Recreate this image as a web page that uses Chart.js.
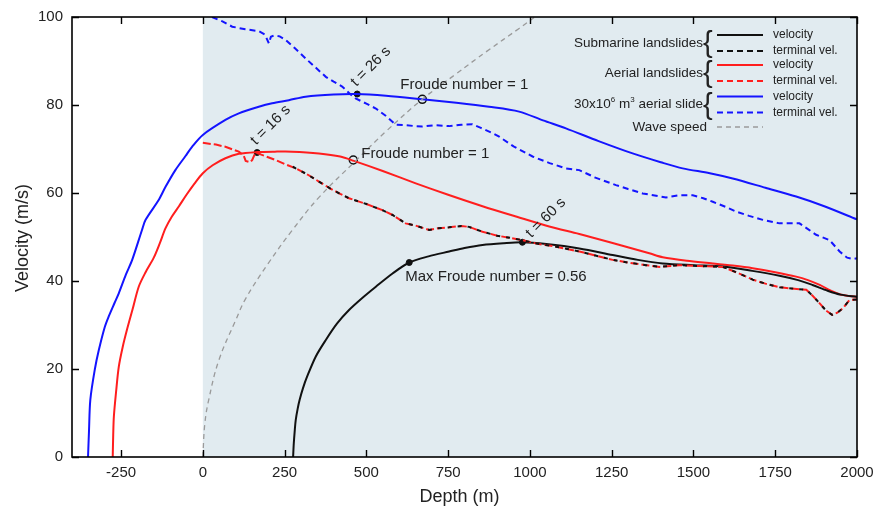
<!DOCTYPE html>
<html>
<head>
<meta charset="utf-8">
<script src="https://cdn.jsdelivr.net/npm/chart.js@4/dist/chart.umd.min.js"></script>
<style>
  html, body { margin: 0; padding: 0; background: #fff; }
  canvas { display: block; }
</style>
</head>
<body>
<canvas id="chart" width="878" height="510"></canvas>
<script>
// depth (m), velocity (m/s) pairs
const xTicks = [-250, 0, 250, 500, 750, 1000, 1250, 1500, 1750, 2000];
const yTicks = [0, 20, 40, 60, 80, 100];

const submarineVelocity = [[276,0],[278,3],[281,6],[284,8.4],[290,11],[296,13],[306,15.6],[319,18.3],[345,22.8],[376,26.6],[410,30.3],[447,33.4],[490,36.3],[529,38.7],[580,41.7],[631,44.2],[690,45.6],[753,46.7],[800,47.5],[855,48.2],[920,48.6],[977,48.8],[1050,48.4],[1151,47.4],[1253,45.9],[1330,44.8],[1406,44],[1500,43.6],[1590,43.3],[1680,42.3],[1763,41.2],[1820,40.2],[1864,39.1],[1910,37.8],[1950,36.9],[2000,36.4]];

const submarineTerminal = [[275,66],[284,65.6],[320,64.2],[355,62.6],[390,61],[420,59.8],[447,58.8],[500,57.5],[549,56.1],[580,55],[620,53.1],[650,52.6],[692,51.6],[720,52],[753,52.2],[790,52.5],[814,52.3],[840,51.6],[855,51.2],[900,50.3],[940,49.8],[977,49.3],[1020,48.5],[1080,47.8],[1151,46.7],[1200,45.8],[1253,44.8],[1300,44.2],[1355,43.6],[1396,43.2],[1457,43.6],[1520,43.4],[1590,43.2],[1630,42],[1661,41],[1681,40.3],[1720,39.4],[1763,38.6],[1800,38.3],[1845,38],[1865,36.6],[1886,34.9],[1905,33.3],[1924,32.3],[1940,32.8],[1957,33.8],[1977,35.7],[2000,35.8]];

const aerialVelocity = [[-275.5,0],[-274,5],[-272,9.2],[-265,15],[-257,20.5],[-245,25],[-232,28.9],[-215,33.5],[-196,38.7],[-175,42],[-150,45.3],[-132,48.5],[-114,52],[-95,54.6],[-73,57],[-50,59.6],[-25,62.2],[0,64.5],[30,66.3],[69,67.9],[110,68.9],[166,69.3],[220,69.4],[273,69.4],[355,69],[420,68.3],[462,67.3],[550,65],[651,62.2],[750,59.6],[855,57],[960,54.6],[1059,52.4],[1151,50.7],[1250,48.7],[1365,46.3],[1406,45.4],[1480,44.6],[1559,44],[1620,43.5],[1681,42.9],[1750,42],[1814,41],[1850,40.2],[1886,39.1],[1920,37.8],[1947,37],[1975,36.6],[2000,36.4]];

const aerialTerminal = [[0,71.4],[40,71],[69,70.5],[110,69.4],[125,68.5],[131,67.3],[145,67],[151,67.5],[161,69.2],[190,68.4],[222,67.5],[250,66.6],[284,65.6],[320,64.2],[355,62.6],[390,61],[420,59.8],[447,58.8],[500,57.5],[549,56.1],[580,55],[620,53.1],[650,52.6],[692,51.6],[720,52],[753,52.2],[790,52.5],[814,52.3],[840,51.6],[855,51.2],[900,50.3],[940,49.8],[977,49.3],[1020,48.5],[1080,47.8],[1151,46.7],[1200,45.8],[1253,44.8],[1300,44.2],[1355,43.6],[1396,43.2],[1457,43.6],[1520,43.4],[1590,43.2],[1630,42],[1661,41],[1681,40.3],[1720,39.4],[1763,38.6],[1800,38.3],[1845,38],[1865,36.6],[1886,34.9],[1905,33.3],[1924,32.3],[1940,32.8],[1957,33.8],[1977,35.7],[2000,35.8]];

const bigSlideVelocity = [[-351,0],[-348,6],[-344,13],[-330,20],[-318,24.3],[-300,29.5],[-288,31.9],[-270,35],[-257,37.2],[-235,41.5],[-216,44.8],[-186,51.6],[-175,53.9],[-135,58.4],[-114,61.4],[-84,65.2],[-53,68.4],[-33,70.5],[0,73.2],[69,76.6],[110,78.1],[171,79.6],[212,80.4],[263,81.1],[314,81.9],[400,82.4],[470,82.5],[560,82.1],[671,81.3],[775,80.5],[875,79.6],[967,78.5],[1040,76.5],[1110,74.7],[1210,71.8],[1314,69],[1400,67],[1467,65.6],[1550,64.5],[1620,63.3],[1720,61.2],[1814,59.2],[1900,57],[2000,54]];

const bigSlideTerminal = [[28,100],[60,99],[90,97.8],[130,97.2],[171,96.8],[190,96],[202,94],[208,95.5],[217,95.8],[235,95.6],[253,94.8],[280,93],[314,90.6],[345,88.5],[376,86.4],[400,85.3],[426,84.2],[450,82.5],[467,81.5],[500,80.3],[529,79.2],[560,77.5],[590,75.5],[620,75.4],[650,75.2],[671,75.1],[710,75.4],[753,75.2],[790,75.5],[824,75.6],[850,74.8],[886,73.6],[906,72.8],[950,70.6],[1008,68.3],[1060,66.8],[1110,65.6],[1151,65.2],[1200,63.5],[1263,61.8],[1300,60.9],[1345,59.9],[1416,59],[1457,59.5],[1498,59.5],[1530,58.8],[1559,58],[1600,56.8],[1630,55.8],[1670,54.8],[1712,53.9],[1763,53.1],[1824,53.1],[1850,51.8],[1875,50.5],[1916,49.3],[1947,46.7],[1970,45.3],[1988,45],[2000,45.2]];

const waveSpeed = [[0,0],[6,7.5],[18,13],[49,22],[100,31],[131,36],[200,44],[273,51.5],[355,59],[470,67.5],[560,74],[671,81.3],[773,87],[870,92.3],[967,97.4],[1015,100]];

const timeDots = [[166,69.2],[472,82.5],[977,48.8]];
const timeLabels = ['t = 16 s', 't = 26 s', 't = 60 s'];
const froudeOne = [[460,67.5],[671,81.3]];
const froudeOneLabel = 'Froude number = 1';
const maxFroude = [[631,44.2]];
const maxFroudeLabel = 'Max Froude number = 0.56';

const toXY = arr => arr.map(p => ({ x: p[0], y: p[1] }));

const BLUE = '#1414ff', RED = '#ff1e1e', BLACK = '#111', GREY = '#9a9a9a';
const FONT = '"Liberation Sans", Arial, sans-serif';
Chart.defaults.font.family = FONT;

function lineSet(label, data, color, dash, width, tension) {
    return {
        label: label,
        data: toXY(data),
        showLine: true,
        borderColor: color,
        borderWidth: width,
        borderDash: dash,
        pointRadius: 0,
        tension: tension,
        fill: false
    };
}

const decor = {
    id: 'decor',
    beforeDatasetsDraw(chart) {
        const { ctx, chartArea: a, scales: { x } } = chart;
        const x0 = x.getPixelForValue(0);
        ctx.save();
        ctx.fillStyle = '#e1ebf0';
        ctx.fillRect(x0, a.top, a.right - x0, a.bottom - a.top);
        ctx.restore();
    },
    afterDraw(chart) {
        const { ctx, chartArea: a, scales: { x, y } } = chart;
        ctx.save();
        // frame and inward ticks
        ctx.strokeStyle = '#000';
        ctx.lineWidth = 1.6;
        ctx.strokeRect(a.left, a.top, a.right - a.left, a.bottom - a.top);
        ctx.lineWidth = 1.4;
        ctx.beginPath();
        xTicks.forEach(v => {
            const px = Math.round(x.getPixelForValue(v)) + 0.5;
            ctx.moveTo(px, a.bottom); ctx.lineTo(px, a.bottom - 7);
            ctx.moveTo(px, a.top); ctx.lineTo(px, a.top + 7);
        });
        yTicks.forEach(v => {
            const py = Math.round(y.getPixelForValue(v)) + 0.5;
            ctx.moveTo(a.left, py); ctx.lineTo(a.left + 7, py);
            ctx.moveTo(a.right, py); ctx.lineTo(a.right - 7, py);
        });
        ctx.stroke();

        // axis titles
        ctx.fillStyle = '#222';
        ctx.font = '18px ' + FONT;
        ctx.textAlign = 'center';
        ctx.textBaseline = 'middle';
        ctx.fillText('Depth (m)', (a.left + a.right) / 2 - 5, 497);
        ctx.save();
        ctx.translate(23, (a.top + a.bottom) / 2 + 1);
        ctx.rotate(-Math.PI / 2);
        ctx.fillText('Velocity (m/s)', 0, 0);
        ctx.restore();

        // annotations
        ctx.font = '15px ' + FONT;
        ctx.textAlign = 'left';
        const tOff = [[-4, -10], [-4, -10], [6, -7]];
        timeDots.forEach((p, i) => {
            const px = x.getPixelForValue(p[0]) + tOff[i][0];
            const py = y.getPixelForValue(p[1]) + tOff[i][1];
            ctx.save();
            ctx.translate(px, py);
            ctx.rotate(-Math.PI / 4);
            ctx.fillText(timeLabels[i], 0, 0);
            ctx.restore();
        });
        const fOff = [[8, -6], [-22, -14]];
        froudeOne.forEach((p, i) => {
            ctx.fillText(froudeOneLabel, x.getPixelForValue(p[0]) + fOff[i][0], y.getPixelForValue(p[1]) + fOff[i][1]);
        });
        ctx.fillText(maxFroudeLabel, x.getPixelForValue(maxFroude[0][0]) - 4, y.getPixelForValue(maxFroude[0][1]) + 14);

        // legend
        const rows = [
            { name: 'Submarine landslides', color: BLACK, y: 35 },
            { name: 'Aerial landslides', color: RED, y: 65 },
            { name: 'slide', color: BLUE, y: 96.5 }
        ];
        const textRight = 703, lx0 = 717, lx1 = 763, tx = 773;
        rows.forEach((r, i) => {
            const mid = r.y + 8;
            ctx.fillStyle = '#222';
            ctx.textAlign = 'right';
            ctx.font = '13.5px ' + FONT;
            if (i < 2) {
                ctx.fillText(r.name, textRight, mid);
            } else {
                // 30x10^6 m^3 aerial slide
                const tail = ' aerial slide';
                let xr = textRight - ctx.measureText(tail).width;
                ctx.fillText(tail, textRight, mid);
                ctx.font = '8px ' + FONT;
                ctx.fillText('3', xr, mid - 5);
                xr -= ctx.measureText('3').width;
                ctx.font = '13.5px ' + FONT;
                ctx.fillText(' m', xr, mid);
                xr -= ctx.measureText(' m').width;
                ctx.font = '8px ' + FONT;
                ctx.fillText('6', xr, mid - 5);
                xr -= ctx.measureText('6').width;
                ctx.font = '13.5px ' + FONT;
                ctx.fillText('30x10', xr, mid);
            }
            ctx.textAlign = 'left';
            ctx.font = '29px ' + FONT;
            ctx.fillText('{', textRight, mid + 1);
            ctx.strokeStyle = r.color;
            ctx.lineWidth = 2;
            ctx.setLineDash([]);
            ctx.beginPath(); ctx.moveTo(lx0, r.y); ctx.lineTo(lx1, r.y); ctx.stroke();
            ctx.setLineDash([6, 4]);
            ctx.beginPath(); ctx.moveTo(lx0, r.y + 16); ctx.lineTo(lx1, r.y + 16); ctx.stroke();
            ctx.setLineDash([]);
            ctx.fillStyle = '#222';
            ctx.font = '12px ' + FONT;
            ctx.fillText('velocity', tx, r.y);
            ctx.fillText('terminal vel.', tx, r.y + 16);
        });
        ctx.font = '13.5px ' + FONT;
        ctx.textAlign = 'right';
        ctx.fillText('Wave speed', 707, 127);
        ctx.strokeStyle = GREY;
        ctx.lineWidth = 1.3;
        ctx.setLineDash([5, 4]);
        ctx.beginPath(); ctx.moveTo(lx0, 127); ctx.lineTo(lx1, 127); ctx.stroke();
        ctx.restore();
    }
};

new Chart(document.getElementById('chart').getContext('2d'), {
    type: 'scatter',
    data: {
        datasets: [
            lineSet('Wave speed', waveSpeed, GREY, [5, 4], 1.3, 0.4),
            lineSet('Submarine terminal vel.', submarineTerminal, BLACK, [4, 6], 2, 0),
            lineSet('Aerial terminal vel.', aerialTerminal, RED, [8, 3], 2, 0),
            lineSet('Submarine velocity', submarineVelocity, BLACK, [], 2, 0.3),
            lineSet('Aerial velocity', aerialVelocity, RED, [], 2, 0.3),
            lineSet('30x10^6 terminal vel.', bigSlideTerminal, BLUE, [6, 4], 2, 0),
            lineSet('30x10^6 velocity', bigSlideVelocity, BLUE, [], 2, 0.3),
            {
                label: 'time marks',
                data: toXY(timeDots.concat(maxFroude)),
                pointRadius: 3,
                backgroundColor: '#111',
                borderColor: '#111',
                showLine: false
            },
            {
                label: 'Froude = 1',
                data: toXY(froudeOne),
                pointRadius: 4,
                borderWidth: 1.5,
                backgroundColor: 'rgba(0,0,0,0)',
                borderColor: '#111',
                showLine: false
            }
        ]
    },
    options: {
        responsive: false,
        animation: false,
        devicePixelRatio: 1,
        layout: { padding: { left: 0, top: 17, right: 21, bottom: 0 } },
        plugins: { legend: { display: false }, tooltip: { enabled: false } },
        scales: {
            x: {
                type: 'linear',
                min: -400,
                max: 2000,
                afterBuildTicks: s => { s.ticks = xTicks.map(v => ({ value: v })); },
                afterFit: s => { s.height = 53; s.paddingLeft = 0; s.paddingRight = 0; },
                grid: { display: false, drawTicks: false, tickLength: 0 },
                border: { display: false },
                ticks: { padding: 7, color: '#222', font: { size: 15 }, callback: v => String(v), maxRotation: 0 }
            },
            y: {
                min: 0,
                max: 100,
                afterBuildTicks: s => { s.ticks = yTicks.map(v => ({ value: v })); },
                afterFit: s => { s.width = 72; s.paddingTop = 0; s.paddingBottom = 0; },
                grid: { display: false, drawTicks: false, tickLength: 0 },
                border: { display: false },
                ticks: { padding: 9, color: '#222', font: { size: 15 }, callback: v => String(v) }
            }
        }
    },
    plugins: [decor]
});
</script>
</body>
</html>
